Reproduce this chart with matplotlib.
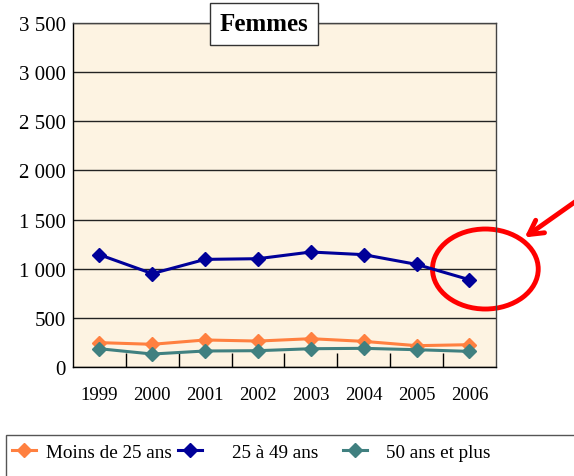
import matplotlib
matplotlib.use("Agg")
import matplotlib.pyplot as plt
from matplotlib.patches import Ellipse, Rectangle
import numpy as np

# data
years = ["1999", "2000", "2001", "2002", "2003", "2004", "2005", "2006"]
moins25 = [248, 231, 275, 264, 288, 261, 217, 227]
de25a49 = [1143, 950, 1095, 1102, 1170, 1143, 1044, 888]
plus50 = [186, 132, 163, 166, 186, 190, 176, 159]

plt.rcParams['font.family'] = ['Liberation Serif', 'DejaVu Serif']

fig = plt.figure(figsize=(5.74, 4.77), dpi=100)
ax = fig.add_axes([0.127, 0.2285, 0.737, 0.7212])
ax.set_facecolor('#FDF3E2')

x = np.arange(len(years))
l1, = ax.plot(x, moins25, color='#FF8040', lw=2.2, marker='D', ms=7.5, label='Moins de 25 ans')
l2, = ax.plot(x, de25a49, color='#000099', lw=2.2, marker='D', ms=7.5, label='25 à 49 ans')
l3, = ax.plot(x, plus50, color='#408080', lw=2.2, marker='D', ms=7.5, label='50 ans et plus')

ax.set_xlim(-0.5, len(years) - 0.5)
ax.set_ylim(0, 3500)
ax.set_yticks(np.arange(0, 3501, 500))
ax.set_yticklabels(['0'] + ['{:,}'.format(v).replace(',', ' ') for v in range(500, 3501, 500)])
ax.yaxis.grid(True, color='#222222', lw=1)
ax.set_axisbelow(True)
ax.set_xticks(x)
ax.set_xticklabels(years)
ax.set_xticks(np.arange(0.5, len(years) - 1, 1), minor=True)
ax.tick_params(axis='x', which='major', length=0, pad=14, labelsize=13.5)
ax.tick_params(axis='x', which='minor', direction='in', length=10, width=1)
ax.tick_params(axis='y', length=0, pad=5, labelsize=15)
for s in ax.spines.values():
    s.set_color('black')
    s.set_linewidth(1)
ax.spines['top'].set_color('#444444')
ax.spines['right'].set_color('#444444')

ax.text(3.11, 3490, 'Femmes', ha='center', va='center',
        fontsize=18, fontweight='bold', zorder=5,
        bbox=dict(boxstyle='square,pad=0.38', fc='white', ec='#333333', lw=1))

# red highlight around 2005-2006
ell = Ellipse((7.3, 997), 2.0, 814, fill=False, ec='#FF0000', lw=3.5, clip_on=False)
ax.add_patch(ell)
ax.annotate('', xy=(8.0, 1302), xytext=(9.1, 1720), xycoords='data',
            arrowprops=dict(arrowstyle='->,head_length=1.0,head_width=0.55',
                            color='#FF0000', lw=3.5), annotation_clip=False)

# legend frame
fig.patches.append(Rectangle((6 / 574, -0.05), 1.0, (477 - 436) / 477 + 0.05,
                             transform=fig.transFigure, fill=False,
                             ec='#555555', lw=1))
# one legend entry per column, spaced like the original
for h, x0, pad in [(l1, 12, 0.52), (l2, 178, 1.56), (l3, 343, 1.0)]:
    fig.legend(handles=[h], loc='center left', bbox_to_anchor=(x0 / 574, 0.0503),
               frameon=False, fontsize=13.8, handlelength=1.25, handletextpad=pad,
               borderpad=0, borderaxespad=0)

fig.savefig('out.png', dpi=100)
